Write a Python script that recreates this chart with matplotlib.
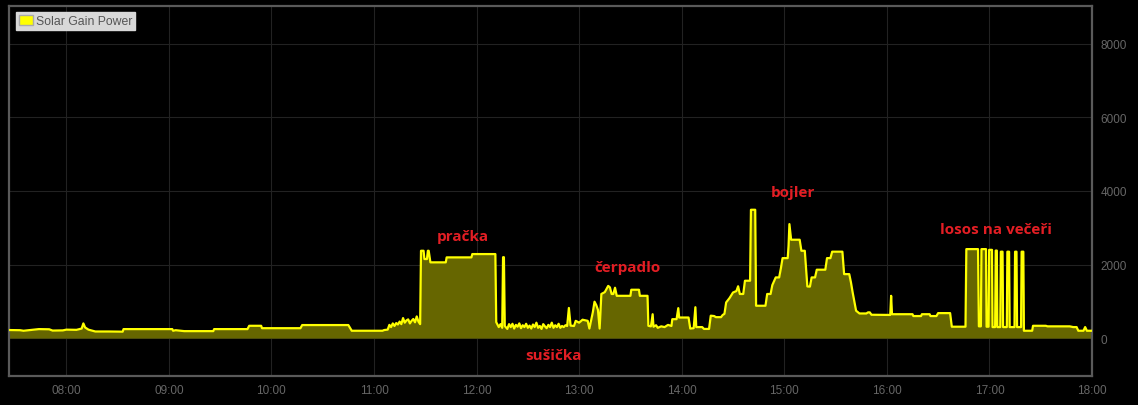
import matplotlib
matplotlib.use("Agg")
import matplotlib.pyplot as plt
import matplotlib.dates as mdates
from matplotlib.patches import Patch
import pandas as pd

DAY = "2024-05-01 "

# readings, (time, watts)
morning = [
    ("07:26", 220), ("07:33", 215), ("07:35", 200), ("07:40", 225), ("07:44", 245),
    ("07:50", 240), ("07:52", 205), ("07:58", 210), ("08:00", 230), ("08:06", 225),
    ("08:09", 260), ("08:10", 400), ("08:11", 290), ("08:13", 230), ("08:17", 180),
    ("08:25", 180), ("08:30", 175), ("08:33", 175), ("08:33:30", 245), ("09:02", 245),
    ("09:02:30", 200), ("09:04", 215), ("09:09", 190), ("09:26", 190), ("09:26:30", 245),
    ("09:46", 245), ("09:47", 335), ("09:54", 335), ("09:54:30", 270), ("10:17", 270),
    ("10:18", 355), ("10:45", 355), ("10:47", 200), ("11:05", 200), ("11:06", 220),
    ("11:08", 230), ("11:09", 360), ("11:10", 300), ("11:11", 400), ("11:12", 330),
    ("11:13", 410), ("11:14", 370), ("11:15", 450), ("11:16", 380), ("11:17", 545),
    ("11:18", 420), ("11:19", 480), ("11:20", 510), ("11:21", 400), ("11:22", 470),
    ("11:23", 520), ("11:24", 430), ("11:25", 590), ("11:26", 450), ("11:27", 380),
]
washer = [
    ("11:27:30", 2375), ("11:29", 2375), ("11:29:30", 2150), ("11:31", 2150),
    ("11:31:30", 2375), ("11:32", 2375), ("11:33", 2060), ("11:42", 2060),
    ("11:42:30", 2195), ("11:57", 2195), ("11:57:30", 2285), ("12:11", 2285),
    ("12:11:30", 435), ("12:13", 300), ("12:14", 380), ("12:15", 280),
    ("12:15:30", 2200), ("12:16", 2200), ("12:16:30", 330),
]
dryer = [
    ("12:18", 250), ("12:19", 380), ("12:20", 300), ("12:21", 390), ("12:22", 260),
    ("12:23", 360), ("12:24", 310), ("12:25", 400), ("12:26", 270), ("12:27", 350),
    ("12:28", 300), ("12:29", 390), ("12:30", 280), ("12:31", 340), ("12:32", 260),
    ("12:33", 370), ("12:34", 300), ("12:35", 420), ("12:36", 280), ("12:37", 330),
    ("12:38", 250), ("12:39", 380), ("12:40", 320), ("12:41", 270), ("12:42", 360),
    ("12:43", 300), ("12:44", 420), ("12:45", 280), ("12:46", 350), ("12:47", 300),
    ("12:48", 390), ("12:49", 280), ("12:50", 330), ("12:51", 300), ("12:52", 350),
    ("12:53", 330), ("12:54", 820), ("12:55", 340), ("12:57", 330), ("12:58", 470),
    ("13:00", 420), ("13:02", 500), ("13:04", 480), ("13:05", 470), ("13:06", 260),
    ("13:08", 700), ("13:09", 990), ("13:10", 900), ("13:11", 770), ("13:12", 260),
]
pump = [
    ("13:13", 1200), ("13:15", 1250), ("13:17", 1420), ("13:18", 1380), ("13:19", 1200),
    ("13:20", 1200), ("13:21", 1370), ("13:22", 1150), ("13:30", 1150), ("13:30:30", 1315),
    ("13:35", 1315), ("13:35:30", 1150), ("13:40", 1150), ("13:40:30", 335), ("13:42", 320),
    ("13:43", 650), ("13:43:30", 310), ("13:45", 350), ("13:46", 280), ("13:48", 320),
    ("13:50", 300), ("13:52", 360), ("13:54", 330), ("13:54:30", 515), ("13:57", 515),
    ("13:58", 815), ("13:58:30", 560), ("14:04", 560), ("14:05", 260), ("14:07", 270),
    ("14:08", 840), ("14:08:30", 300), ("14:12", 300), ("14:13", 250), ("14:16", 250),
]
boiler = [
    ("14:17", 610), ("14:19", 600), ("14:20", 570), ("14:23", 570), ("14:24", 630),
    ("14:25", 660), ("14:26", 970), ("14:28", 1090), ("14:30", 1240), ("14:32", 1280),
    ("14:33", 1410), ("14:34", 1200), ("14:36", 1200), ("14:37", 1560), ("14:40", 1560),
    ("14:40:30", 3490), ("14:43", 3490), ("14:43:30", 880), ("14:49", 880), ("14:50", 1200),
    ("14:52", 1200), ("14:53", 1440), ("14:55", 1650), ("14:57", 1650), ("14:58", 1895),
    ("14:59", 2175), ("15:02", 2175), ("15:02:30", 2510), ("15:03", 3100), ("15:04", 2675),
    ("15:09", 2675), ("15:10", 2375), ("15:12", 2375), ("15:13:30", 1405), ("15:15", 1400),
    ("15:16", 1650), ("15:18", 1650), ("15:19", 1860), ("15:24", 1860), ("15:25", 2175),
    ("15:27", 2175), ("15:28", 2350), ("15:34", 2350), ("15:35", 1740), ("15:38", 1740),
    ("15:39", 1515), ("15:40", 1240), ("15:42", 745), ("15:44", 670), ("15:48", 670),
    ("15:49", 700), ("15:50", 700), ("15:51", 635),
]
evening = [
    ("16:02", 630), ("16:02:30", 1150), ("16:03", 650), ("16:15", 650), ("16:15:30", 600),
    ("16:20", 600), ("16:20:30", 650), ("16:25", 650), ("16:25:30", 600), ("16:29", 600),
    ("16:30", 680), ("16:37", 680), ("16:38", 310), ("16:46", 310), ("16:46:30", 2420),
    ("16:53:20", 2420), ("16:53:50", 320), ("16:55", 320), ("16:55:20", 2420), ("16:58", 2420),
    ("16:58:20", 310), ("16:59:30", 310), ("16:59:50", 2400), ("17:01:30", 2400), ("17:01:50", 300),
    ("17:03:20", 300), ("17:03:40", 2380), ("17:04:20", 2380), ("17:04:40", 300), ("17:06:20", 300),
    ("17:06:40", 2350), ("17:07:40", 2350), ("17:08", 300), ("17:10:10", 300), ("17:10:30", 2350),
    ("17:11:30", 2350), ("17:11:50", 300), ("17:14:40", 300), ("17:15", 2350), ("17:15:50", 2350),
    ("17:16:10", 300), ("17:18:30", 300), ("17:18:50", 2350), ("17:19:50", 2350), ("17:20:10", 200),
    ("17:25", 200), ("17:25:30", 335), ("17:33", 335), ("17:34", 320), ("17:47", 320),
    ("17:49", 300), ("17:51", 300), ("17:52", 200), ("17:55", 200), ("17:56", 300),
    ("17:57", 200), ("18:00", 200),
]

notes = ["pračka", "čerpadlo", "bojler", "losos na večeři", "sušička"]
note_times = ["11:52", "13:28", "15:05", "17:04", "12:45"]
note_watts = [2775, 1930, 3970, 2965, -460]


def when(hhmm):
    return pd.to_datetime(DAY + hhmm, format="mixed")


readings = morning + washer + dryer + pump + boiler + evening
t = pd.to_datetime([DAY + r[0] for r in readings], format="mixed")
w = [r[1] for r in readings]

fig = plt.figure(figsize=(11.38, 4.06), dpi=100, facecolor="black")
ax = fig.add_axes([9 / 1138, 29 / 406, 1083 / 1138, 370 / 406], facecolor="black")

ax.fill_between(t, 0, w, color="#666600", lw=0, zorder=2)
ax.plot(t, w, color="#ffff00", lw=1.6, zorder=3)

ax.set_xlim(when("07:26:30"), when("18:00"))
ax.set_ylim(-1030, 9030)
ax.set_yticks([0, 2000, 4000, 6000, 8000])
ax.xaxis.set_major_locator(mdates.HourLocator())
ax.xaxis.set_major_formatter(mdates.DateFormatter("%H:%M"))
ax.yaxis.tick_right()
ax.tick_params(colors="#666666", length=0, labelsize=8.5, pad=6)
for lab in ax.get_xticklabels() + ax.get_yticklabels():
    lab.set_fontfamily("Liberation Sans")
ax.grid(True, color="#222222", lw=0.8, zorder=1)
for s in ax.spines.values():
    s.set_color("#5a5a5a")
    s.set_linewidth(1.6)

for txt, tm, val in zip(notes, note_times, note_watts):
    ax.text(when(tm), val, txt, color="#e31e24", fontsize=11,
            fontweight="bold", family="Open Sans", ha="center", va="center", zorder=4)

leg = ax.legend(handles=[Patch(facecolor="#ffff00", edgecolor="#aaaaaa", label="Solar Gain Power")],
                loc="upper left", bbox_to_anchor=(0.0065, 0.985), borderaxespad=0,
                fancybox=False, framealpha=1, facecolor="#d8d8d8", edgecolor="#d8d8d8",
                handlelength=1.1, handleheight=0.9, handletextpad=0.25, borderpad=0.25,
                prop={"family": "Liberation Sans", "size": 8.8})
for txt in leg.get_texts():
    txt.set_color("#555555")

fig.savefig("out.png", dpi=100, facecolor="black")
